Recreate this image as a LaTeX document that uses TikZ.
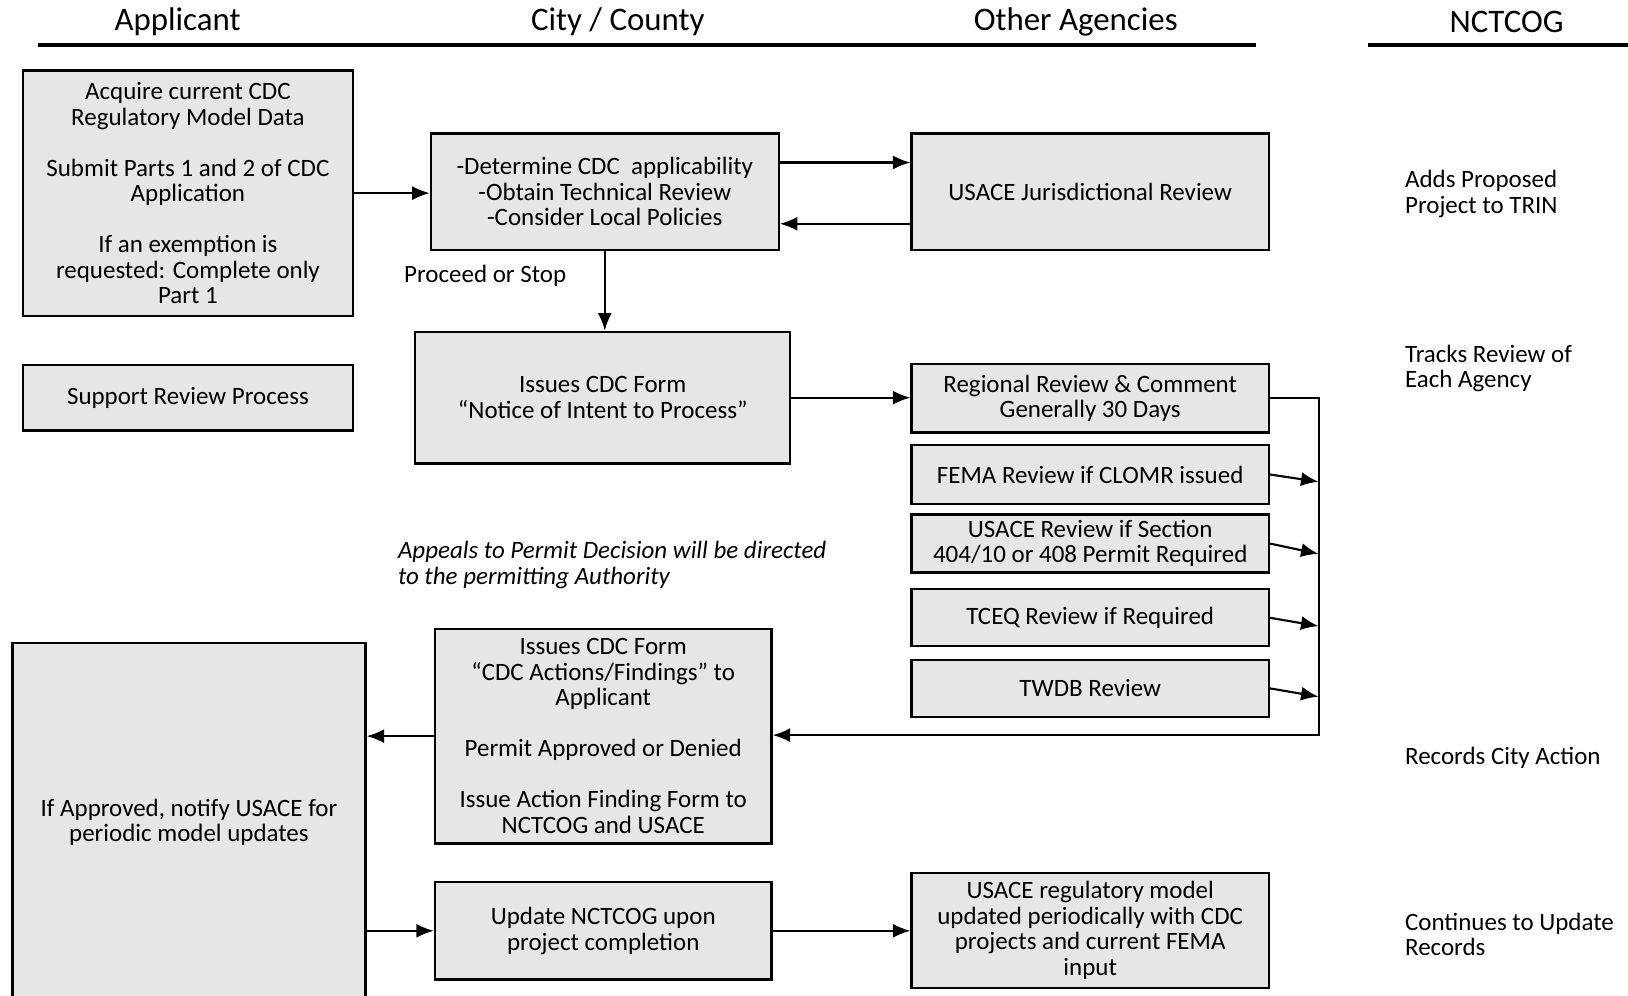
\documentclass[tikz,border=0pt]{standalone}
\usepackage{fontspec}
\setmainfont{Carlito}
\usetikzlibrary{arrows.meta,positioning}
\newcommand{\pxu}{0.5906pt}
\definecolor{boxgray}{HTML}{E6E6E6}

\begin{document}
\begin{tikzpicture}[
        x=\pxu,
        y=-\pxu,
        procbox/.style 2 args={
          draw,
          fill=boxgray,
          line width=1.3pt,
          minimum width=#1*\pxu,
          minimum height=#2*\pxu,
          align=center,
          inner sep=2pt,
          font=\fontsize{14.2}{14.5}\selectfont
          },
        lane/.style={
          font=\fontsize{18.7}{22}\selectfont
          },
        note/.style={
          anchor=west,
          align=left,
          inner sep=0pt,
          font=\fontsize{14.2}{14.5}\selectfont
          },
        flow/.style={
          ->,
          line width=1.2pt
          },
        >={Latex[length=10pt,width=8pt]}
        ]
        \useasboundingbox (0,0) rectangle (1568,959);
        \node[lane] (hApp) at (171,21) {Applicant};
        \node[lane] (hCity) at (595,21) {City / County};
        \node[lane] (hOther) at (1036,21) {Other Agencies};
        \node[lane] (hNct) at (1451,21) {NCTCOG};
        \draw[line width=2.4pt] (37,43) -- (1210,43);
        \draw[line width=2.4pt] (1318,43) -- (1568,43);

        \node[procbox={318}{236}] (acquire) at (181,186) {Acquire current CDC\\Regulatory Model Data\\[14.5pt]Submit Parts 1 and 2 of CDC\\Application\\[14.5pt]If an exemption is\\requested: Complete only\\Part 1};
        \node[procbox={335}{112}] (determine) at (582.5,184.5) {-Determine CDC\ \ applicability\\-Obtain Technical Review\\-Consider Local Policies};
        \node[procbox={344}{112}] (jurisdict) at (1050,184.5) {USACE Jurisdictional Review};
        \node[procbox={318}{63}] (support) at (181,383) {Support Review Process};
        \node[procbox={361}{127}] (intent) at (580.5,383) {Issues CDC Form\\“Notice of Intent to Process”};
        \node[procbox={344}{66}] (regional) at (1050,383.5) {Regional Review \& Comment\\Generally 30 Days};
        \node[procbox={344}{57}] (fema) at (1050,457) {FEMA Review if CLOMR issued};
        \node[procbox={344}{56}] (section) at (1050,523.5) {USACE Review if Section\\404/10 or 408 Permit Required};
        \node[procbox={344}{55}] (tceq) at (1050,595) {TCEQ Review if Required};
        \node[procbox={344}{55}] (twdb) at (1050,663) {TWDB Review};
        \node[procbox={324}{207}] (findings) at (581,709) {Issues CDC Form\\“CDC Actions/Findings” to\\Applicant\\[14.5pt]Permit Approved or Denied\\[14.5pt]Issue Action Finding Form to\\NCTCOG and USACE};
        \node[procbox={340}{346}] (notify) at (182,792) {If Approved, notify USACE for\\periodic model updates};
        \node[procbox={324}{94}] (update) at (581,896.5) {Update NCTCOG upon\\project completion};
        \node[procbox={344}{111}] (model) at (1050,896) {USACE regulatory model\\updated periodically with CDC\\projects and current FEMA\\input};

        \node[note] (proceed) at (389,266) {Proceed or Stop};
        \node[note, font=\fontsize{14.2}{14.5}\selectfont\itshape] (appeals) at (383,544) {Appeals to Permit Decision will be directed\\to the permitting Authority};
        \node[note] (trin) at (1353,187) {Adds Proposed\\Project to TRIN};
        \node[note] (tracks) at (1353,355) {Tracks Review of\\Each Agency};
        \node[note] (records) at (1353,730) {Records City Action};
        \node[note] (continues) at (1353,900) {Continues to Update\\Records};

        \draw[flow] (acquire.east) -- (acquire.east -| determine.west);
        \draw[flow] ([yshift=28*\pxu]determine.east) -- ([yshift=28*\pxu]jurisdict.west);
        \draw[flow] ([yshift=-31*\pxu]jurisdict.west) -- ([yshift=-31*\pxu]determine.east);
        \draw[flow] (determine.south) -- (determine.south |- intent.north);
        \draw[flow] (intent.east) -- (intent.east -| regional.west);
        \coordinate (bus) at (1270,708);
        \draw[flow] (regional.east) -| (bus) -- (bus -| findings.east);
        \foreach \src/\dy in {fema/7,section/10,tceq/8,twdb/8}
        {\path (\src.east -| bus) ++(0,\dy) coordinate (\src-in);
          \draw[flow] (\src.east) -- (\src-in);
        }
        \draw[flow] (findings.west) -- (findings.west -| notify.east);
        \draw[flow] (notify.east |- update.west) -- (update.west);
        \draw[flow] (update.east) -- (update.east -| model.west);
    \end{tikzpicture}
\end{document}
